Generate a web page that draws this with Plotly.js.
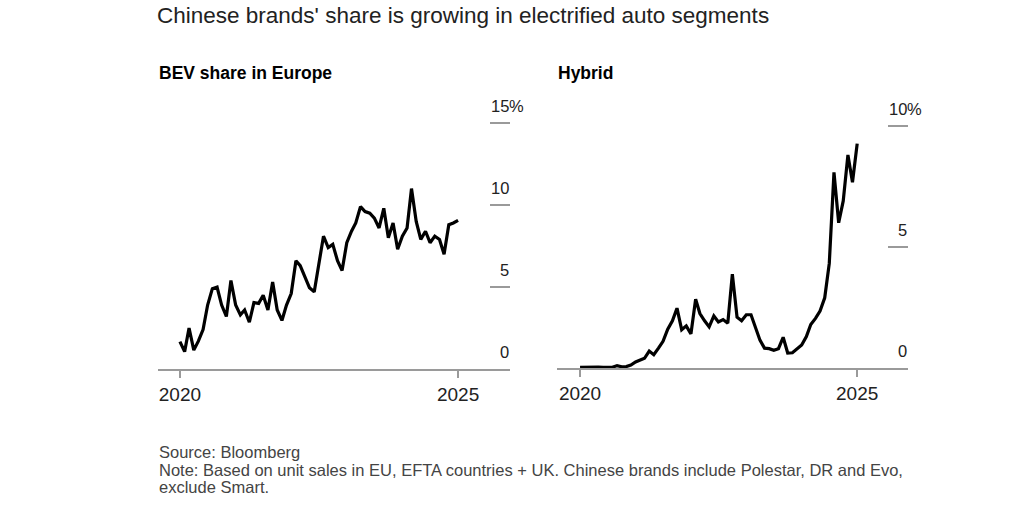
<!DOCTYPE html>
<html>
<head>
<meta charset="utf-8">
<script src="https://cdn.plot.ly/plotly-3.0.1.min.js"></script>
<style>
html,body{margin:0;padding:0;background:#fff;}
#chart{width:1024px;height:521px;}
</style>
</head>
<body>
<div id="chart"></div>
<script>
// Monthly series, Jan 2020 – Jan 2025 (values in %)
const startYear = 2020;
const bevShare = [
  1.67, 1.06, 2.5, 1.15, 1.7, 2.4, 3.9, 4.9, 5.0, 3.9,
  3.2, 5.4, 3.9, 3.3, 3.6, 2.85, 4.05, 4.0, 4.5, 3.6,
  5.3, 3.6, 2.96, 3.9, 4.6, 6.6, 6.3, 5.6, 4.95, 4.7,
  6.3, 8.1, 7.4, 7.6, 6.6, 6.0, 7.7, 8.4, 8.9, 9.9,
  9.6, 9.5, 9.2, 8.6, 9.8, 8.0, 8.9, 7.3, 8.1, 8.6,
  11.0, 9.0, 7.9, 8.4, 7.7, 8.1, 7.9, 7.0, 8.8, 8.9,
  9.06
];
const hybridShare = [
  0.03, 0.04, 0.05, 0.03, 0.04, 0.03, 0.04, 0.03, 0.1, 0.05,
  0.06, 0.12, 0.25, 0.34, 0.4, 0.7, 0.55, 0.82, 1.1, 1.6,
  1.95, 2.47, 1.58, 1.74, 1.41, 2.84, 2.25, 1.95, 1.7, 2.15,
  1.9, 2.0, 1.85, 3.88, 2.1, 1.95, 2.2, 2.2, 1.7, 1.15,
  0.82, 0.8, 0.73, 0.8, 1.27, 0.62, 0.63, 0.78, 0.95, 1.3,
  1.8, 2.05, 2.35, 2.9, 4.32, 8.08, 6.0, 6.9, 8.8, 7.67,
  9.27
];
const xTickVals = ['2020-01-01', '2025-01-01'];
const xTickText = ['2020', '2025'];
const bevTickVals = [0, 5, 10, 15];
const bevTickText = ['0', '5', '10', '15'];
const hybTickVals = [0, 5, 10];
const hybTickText = ['0', '5', '10'];
const unitSuffix = '%';
const titleText = "Chinese brands' share is growing in electrified auto segments";
const panelTitles = ['BEV share in Europe', 'Hybrid'];
const footLines = [
  'Source: Bloomberg',
  'Note: Based on unit sales in EU, EFTA countries + UK. Chinese brands include Polestar, DR and Evo,',
  'exclude Smart.'
];

function monthDates(n) {
  const out = [];
  for (let i = 0; i < n; i++) {
    const y = startYear + Math.floor(i / 12);
    const m = (i % 12) + 1;
    out.push(y + '-' + String(m).padStart(2, '0') + '-01');
  }
  return out;
}

const FONT = 'Liberation Sans, Arial, Helvetica, sans-serif';
const W = 1024, H = 521;
const px = v => v / W;
const py = v => 1 - v / H;

const traces = [
  {x: monthDates(bevShare.length), y: bevShare, type: 'scatter', mode: 'lines',
   line: {color: '#000', width: 3.2}, xaxis: 'x', yaxis: 'y', hoverinfo: 'skip'},
  {x: monthDates(hybridShare.length), y: hybridShare, type: 'scatter', mode: 'lines',
   line: {color: '#000', width: 3.2}, xaxis: 'x2', yaxis: 'y2', hoverinfo: 'skip'}
];

const xCommon = {
  type: 'date', showgrid: false, zeroline: false,
  showline: true, linecolor: '#9a9a9a', linewidth: 2,
  ticks: 'outside', ticklen: 7, tickwidth: 1.5, tickcolor: '#9a9a9a',
  tickvals: xTickVals, ticktext: xTickText,
  tickfont: {family: FONT, size: 19, color: '#222'}, fixedrange: true
};
const yCommon = {
  side: 'right', showgrid: false, zeroline: false, showline: false,
  ticks: 'inside', ticklen: 20, tickwidth: 2, tickcolor: '#9a9a9a',
  showticklabels: false, fixedrange: true
};

const tickFont = {family: FONT, size: 16.5, color: '#222'};
function yLabels(vals, texts, xr, yr) {
  const out = [];
  vals.forEach((v, i) => {
    out.push({text: texts[i], xref: xr + ' domain', yref: yr, x: 1, y: v,
      xanchor: 'right', yanchor: 'bottom', xshift: 1, yshift: 6, showarrow: false, font: tickFont});
  });
  const top = vals[vals.length - 1];
  out.push({text: unitSuffix, xref: xr + ' domain', yref: yr, x: 1, y: top,
    xanchor: 'left', yanchor: 'bottom', xshift: -3, yshift: 6, showarrow: false, font: tickFont});
  return out;
}

const annotations = [
  {text: '<b>' + panelTitles[0] + '</b>', xref: 'paper', yref: 'paper',
   x: px(157), y: py(73), xanchor: 'left', yanchor: 'middle', showarrow: false,
   font: {family: FONT, size: 17.5, color: '#000'}},
  {text: '<b>' + panelTitles[1] + '</b>', xref: 'paper', yref: 'paper',
   x: px(556), y: py(73), xanchor: 'left', yanchor: 'middle', showarrow: false,
   font: {family: FONT, size: 17.5, color: '#000'}}
].concat(
  footLines.map((t, i) => ({text: t, xref: 'paper', yref: 'paper',
    x: px(157), y: py(452 + i * 17.5), xanchor: 'left', yanchor: 'middle',
    align: 'left', showarrow: false, font: {family: FONT, size: 16.5, color: '#444'}})),
  yLabels(bevTickVals, bevTickText, 'x', 'y'),
  yLabels(hybTickVals, hybTickText, 'x2', 'y2')
);

const layout = {
  width: W, height: H,
  margin: {l: 0, r: 0, t: 0, b: 0},
  paper_bgcolor: '#fff', plot_bgcolor: '#fff',
  showlegend: false,
  title: {text: titleText,
          x: px(157), xanchor: 'left', y: py(15), yanchor: 'middle',
          font: {family: FONT, size: 22.5, color: '#222'}},
  xaxis: Object.assign({}, xCommon, {domain: [px(158), px(510)], anchor: 'y',
          range: ['2019-08-10', '2025-12-08']}),
  yaxis: Object.assign({}, yCommon, {domain: [py(369), py(100)], anchor: 'x',
          range: [0, 16.4], tickvals: bevTickVals}),
  xaxis2: Object.assign({}, xCommon, {domain: [px(557), px(908)], anchor: 'y2',
          range: ['2019-08-02', '2025-12-02']}),
  yaxis2: Object.assign({}, yCommon, {domain: [py(368), py(100)], anchor: 'x2',
          range: [0, 11.07], tickvals: hybTickVals}),
  annotations: annotations
};

Plotly.newPlot('chart', traces, layout, {displayModeBar: false, staticPlot: true});
</script>
</body>
</html>
